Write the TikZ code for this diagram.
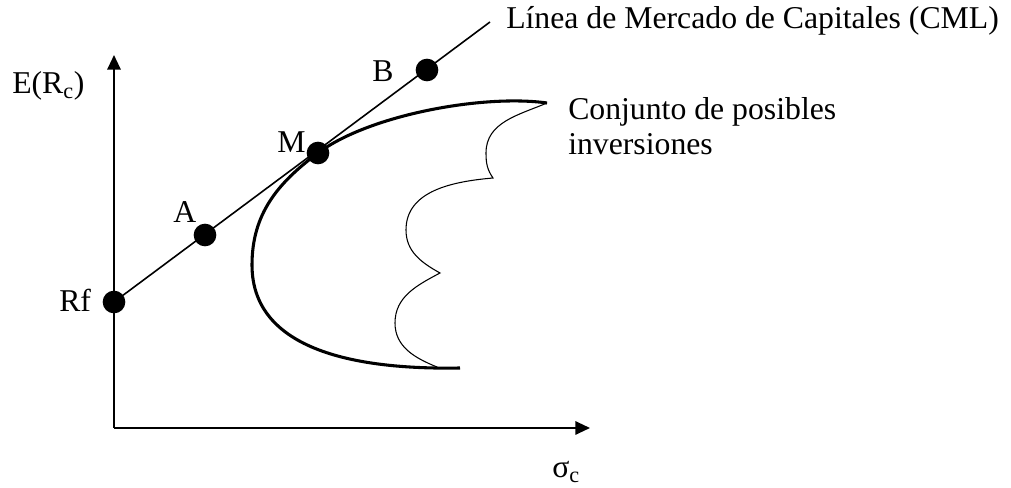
\documentclass[tikz,border=0pt]{standalone}
\usepackage{fontspec}
\setmainfont{Liberation Serif}
\usetikzlibrary{arrows.meta}
\begin{document}
\begin{tikzpicture}[x=0.75pt,y=0.75pt,
  lbl/.style={anchor=base west,inner sep=0pt,font=\fontsize{23.8}{28}\selectfont},
  dot/.style={circle,fill=black,inner sep=0pt,minimum size=17pt},
  axis/.style={line width=1.5pt,-{Triangle[length=11pt,width=10pt]}},
  thin/.style={line width=0.8pt},
  thick/.style={line width=2.3pt}]
\useasboundingbox (0,0) rectangle (1011,488);
% axes
\coordinate (O) at (114,60);
\coordinate (Ytop) at (114,433);
\coordinate (Xend) at (590,60);
\draw[axis] (O) -- (Ytop);
\draw[axis] (O) -- (Xend);
% CML
\coordinate (Rfp) at (114,186);
\coordinate (Lend) at (490,466);
\draw[line width=1.2pt] (Rfp) -- (Lend);
% frontier
\coordinate (T) at (547,385);
\coordinate (Mp) at (318,335);
\coordinate (Lf) at (252,223);
\coordinate (Bt) at (460,120);
\draw[thick] (T) to[out=172,in=36.7,looseness=0.7] (Mp) to[out=216.7,in=90] (Lf) to[out=-90,in=181] (Bt);
% scalloped right side
\coordinate (c1) at (493,310);
\coordinate (c2) at (440,215);
\coordinate (c3) at (437,121);
\draw[thin] (T) to[out=203,in=90] (486,335) to[out=-90,in=125] (c1)
  to[out=185,in=90] (406,258) to[out=-90,in=151] (c2)
  to[out=208,in=90] (395,165) to[out=-90,in=158] (c3);
% dots
\node[dot] (Rf) at (Rfp) {};
\node[dot] (A) at (205,253) {};
\node[dot] (M) at (Mp) {};
\node[dot] (B) at (427,418) {};
% labels
\node[lbl] (lE) at (12,394) {E(R\textsubscript{c})};
\node[lbl] (lRf) at (59,176) {Rf};
\node[lbl] (lA) at (173,265) {A};
\node[lbl] (lM) at (277,335) {M};
\node[lbl] (lB) at (372,406) {B};
\node[lbl] (lCML) at (506,459) {Línea de Mercado de Capitales (CML)};
\node[lbl] (lC1) at (568,368) {Conjunto de posibles};
\node[lbl] (lC2) at (568,333) {inversiones};
\node[lbl] (ls) at (552,10) {σ\textsubscript{c}};
\end{tikzpicture}
\end{document}
